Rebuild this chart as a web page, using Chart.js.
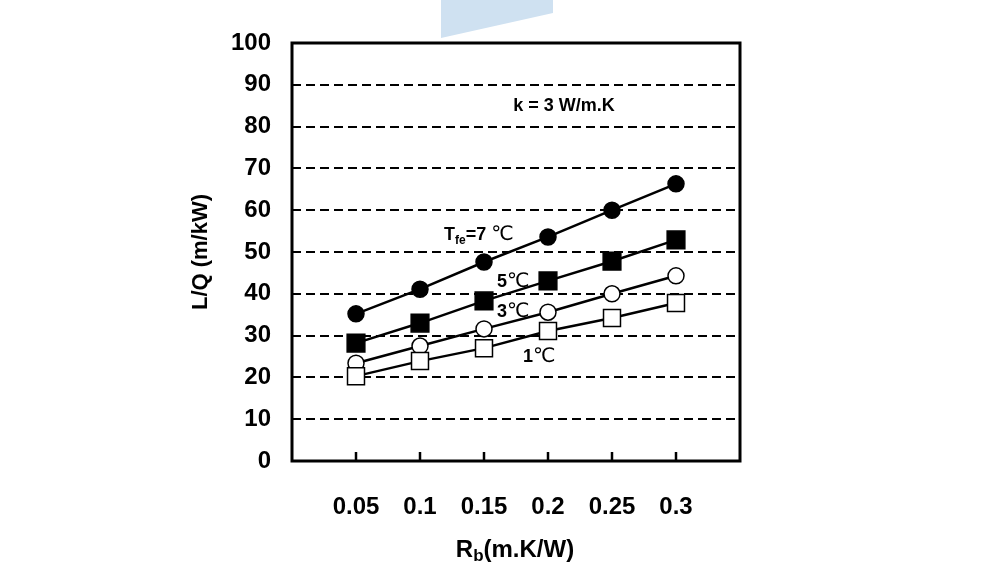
<!DOCTYPE html>
<html>
<head>
<meta charset="utf-8">
<script src="https://cdn.jsdelivr.net/npm/chart.js@4/dist/chart.umd.min.js"></script>
<style>
  html, body { margin: 0; padding: 0; background: #fff; overflow: hidden; }
  canvas { display: block; }
</style>
</head>
<body>
<canvas id="chart" width="1004" height="587"></canvas>
<script>
// Rb values (m.K/W) and L/Q (m/kW) for each fluid temperature
const rb = [0.05, 0.1, 0.15, 0.2, 0.25, 0.3];
const tfe7 = [35.2, 41.1, 47.6, 53.6, 60.0, 66.3];
const tfe5 = [28.2, 33.0, 38.3, 43.1, 47.8, 52.9];
const tfe3 = [23.4, 27.5, 31.6, 35.6, 40.0, 44.3];
const tfe1 = [20.3, 23.9, 27.0, 31.1, 34.2, 37.8];

const FONT = "'Liberation Sans', Arial, sans-serif";
const pts = arr => arr.map((v, i) => ({ x: rb[i], y: v }));

// draw a run of text pieces (for subscripts), left-aligned from x
function richText(ctx, parts, x, y, align) {
    let w = 0;
    parts.forEach(p => { ctx.font = p.font; w += ctx.measureText(p.t).width; });
    let cx = align === 'center' ? x - w / 2 : x;
    ctx.textAlign = 'left';
    ctx.textBaseline = 'alphabetic';
    parts.forEach(p => {
        ctx.font = p.font;
        ctx.fillText(p.t, cx, y + (p.dy || 0));
        cx += ctx.measureText(p.t).width;
    });
}

const deco = {
    id: 'deco',
    beforeDraw(chart) {
        const ctx = chart.ctx;
        ctx.save();
        ctx.fillStyle = '#cfe1f1';
        ctx.beginPath();
        ctx.moveTo(441, 0); ctx.lineTo(553, 0); ctx.lineTo(553, 13); ctx.lineTo(441, 38);
        ctx.closePath();
        ctx.fill();
        ctx.restore();
    },
    beforeDatasetsDraw(chart) {
        const { ctx, chartArea: a, scales: { x, y } } = chart;
        ctx.save();
        ctx.strokeStyle = '#000';
        ctx.lineWidth = 3;
        ctx.strokeRect(a.left, a.top, a.right - a.left, a.bottom - a.top);
        // inner tick marks on the x axis
        ctx.lineWidth = 2.5;
        rb.forEach(v => {
            const px = Math.round(x.getPixelForValue(v));
            ctx.beginPath();
            ctx.moveTo(px, a.bottom);
            ctx.lineTo(px, a.bottom - 9);
            ctx.stroke();
        });
        // short solid ticks on the y axis
        ctx.lineWidth = 2;
        y.ticks.forEach(t => {
            if (t.value === 0 || t.value === 100) return;
            const py = Math.round(y.getPixelForValue(t.value));
            ctx.beginPath();
            ctx.moveTo(a.left, py);
            ctx.lineTo(a.left + 7, py);
            ctx.stroke();
        });
        ctx.restore();
    },
    afterDraw(chart) {
        const ctx = chart.ctx;
        ctx.save();
        ctx.fillStyle = '#000';

        // y title
        ctx.save();
        ctx.translate(201, 252);
        ctx.rotate(-Math.PI / 2);
        ctx.font = 'bold 22px ' + FONT;
        ctx.textAlign = 'center';
        ctx.textBaseline = 'middle';
        ctx.fillText('L/Q (m/kW)', 0, 0);
        ctx.restore();

        // x title
        richText(ctx, [
            { t: 'R', font: 'bold 24px ' + FONT },
            { t: 'b', font: 'bold 17px ' + FONT, dy: 4 },
            { t: '(m.K/W)', font: 'bold 24px ' + FONT }
        ], 515, 557, 'center');

        // annotations
        ctx.font = 'bold 18px ' + FONT;
        ctx.textAlign = 'center';
        ctx.textBaseline = 'middle';
        ctx.fillText('k = 3 W/m.K', 564, 106);

        const deg = "20px 'DejaVu Sans', 'Noto Sans CJK KR', sans-serif";
        richText(ctx, [
            { t: 'T', font: 'bold 18px ' + FONT },
            { t: 'fe', font: 'bold 12px ' + FONT, dy: 4 },
            { t: '=7 ', font: 'bold 18px ' + FONT },
            { t: '℃', font: deg }
        ], 444, 240);
        richText(ctx, [{ t: '5', font: 'bold 18px ' + FONT }, { t: '℃', font: deg }], 497, 287);
        richText(ctx, [{ t: '3', font: 'bold 18px ' + FONT }, { t: '℃', font: deg }], 497, 317);
        richText(ctx, [{ t: '1', font: 'bold 18px ' + FONT }, { t: '℃', font: deg }], 523, 362);
        ctx.restore();
    }
};

const line = (data, style, fill, r) => ({
    data: pts(data),
    borderColor: '#000',
    borderWidth: 2.5,
    pointStyle: style,
    pointRadius: r,
    pointBackgroundColor: fill,
    pointBorderColor: '#000',
    pointBorderWidth: 1.5,
    showLine: true,
    tension: 0
});

new Chart(document.getElementById('chart').getContext('2d'), {
    type: 'scatter',
    data: {
        datasets: [
            line(tfe1, 'rect', '#fff', 12),
            line(tfe3, 'circle', '#fff', 8),
            line(tfe5, 'rect', '#000', 12.5),
            line(tfe7, 'circle', '#000', 8)
        ]
    },
    plugins: [deco],
    options: {
        responsive: false,
        animation: false,
        layout: { padding: { top: 43, right: 264, left: 0, bottom: 0 } },
        plugins: { legend: { display: false }, tooltip: { enabled: false } },
        scales: {
            x: {
                type: 'linear', min: 0, max: 0.35,
                afterFit: s => { s.height = 126; },
                grid: { display: false },
                border: { display: false },
                ticks: {
                    stepSize: 0.05, padding: 24, color: '#000', maxRotation: 0,
                    font: { family: FONT, size: 24, weight: 'bold' },
                    callback: v => (v > 0.001 && v < 0.349) ? String(+v.toFixed(2)) : ''
                }
            },
            y: {
                min: 0, max: 100,
                afterFit: s => { s.width = 292; },
                grid: {
                    drawTicks: false, lineWidth: 2,
                    color: c => (c.tick.value === 0 || c.tick.value === 100) ? 'rgba(0,0,0,0)' : '#000'
                },
                border: { display: false, dash: [9, 5] },
                ticks: {
                    stepSize: 10, padding: 21, color: '#000',
                    font: { family: FONT, size: 24, weight: 'bold' }
                }
            }
        }
    }
});
</script>
</body>
</html>
